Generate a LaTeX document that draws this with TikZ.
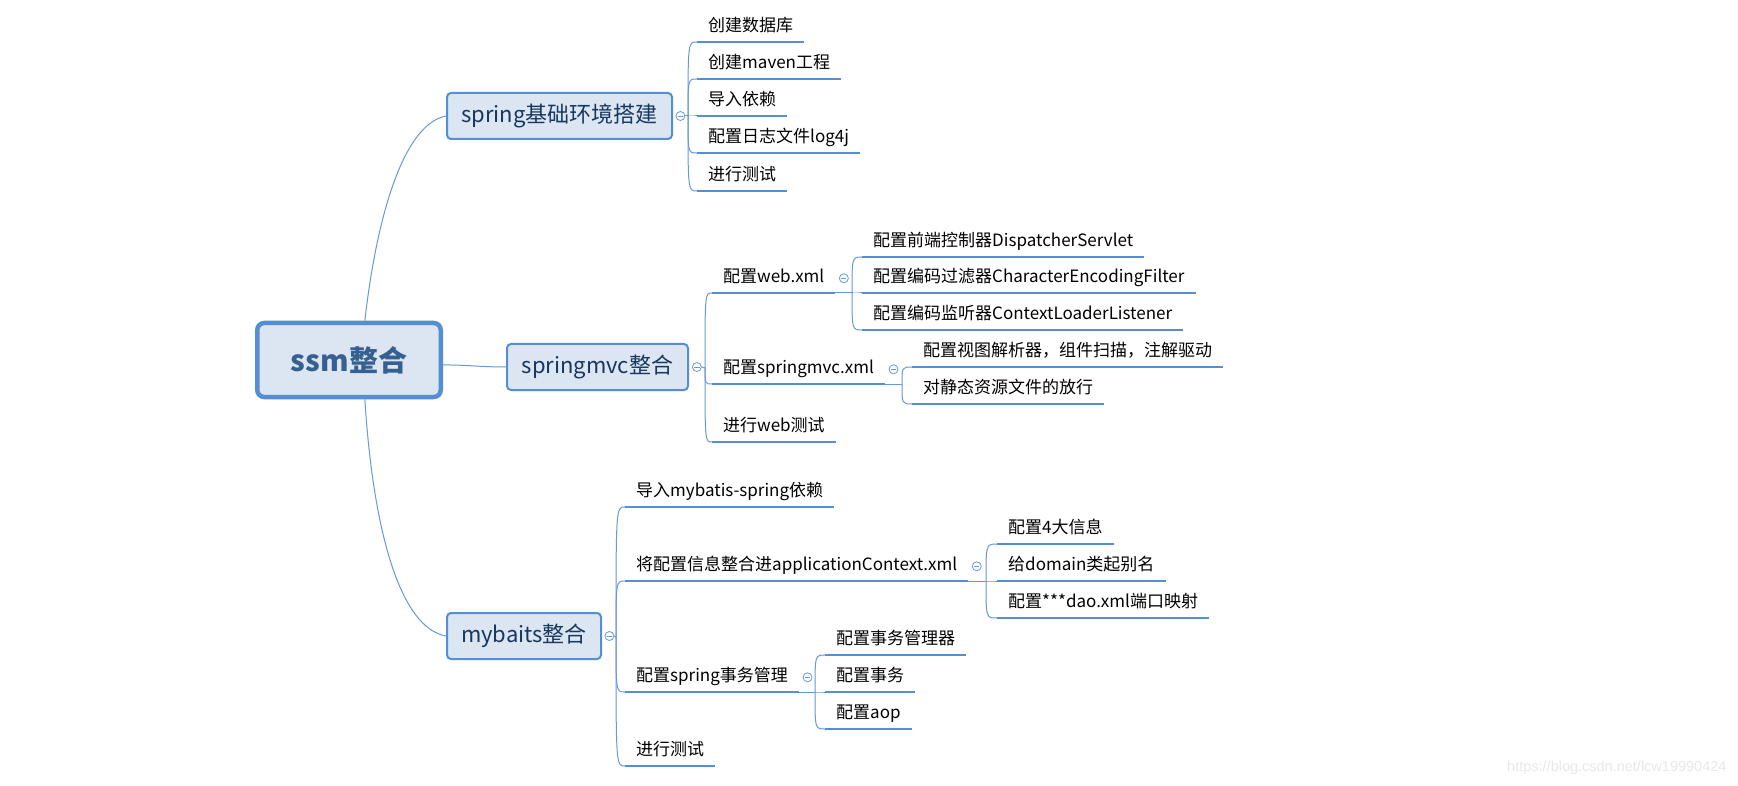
\documentclass[tikz,border=0pt]{standalone}
\usepackage{fontspec}
\setmainfont{Noto Sans CJK SC}
\newfontfamily\wmfont{Liberation Sans}
\usetikzlibrary{positioning}
\definecolor{boxblue}{RGB}{85,142,213}
\definecolor{boxfill}{RGB}{220,230,242}
\definecolor{boxtext}{RGB}{23,55,94}
\definecolor{roottext}{RGB}{54,96,146}
\definecolor{linkblue}{RGB}{104,152,216}
\definecolor{wmgray}{RGB}{232,232,232}

\begin{document}
\begin{tikzpicture}[x=1pt, y=-1pt,
  root/.style={draw=boxblue, line width=4.5pt, fill=boxfill, rounded corners=7pt, minimum width=183.5pt, minimum height=74pt, text=roottext, font=\fontsize{29}{32}\selectfont\bfseries},
  topic/.style={draw=boxblue, line width=2pt, fill=boxfill, rounded corners=4pt, minimum height=46pt, text=boxtext, font=\fontsize{22}{26}\selectfont},
  leaf/.style={anchor=south west, inner xsep=11pt, inner ysep=5pt, text height=14pt, text depth=5pt, font=\fontsize{17}{20}\selectfont},
  uline/.style={draw=boxblue, line width=2.8pt},
  link/.style={draw=linkblue, line width=1pt},
  fold/.style={circle, draw=linkblue, fill=white, line width=0.8pt, inner sep=0pt, minimum size=9pt,
    path picture={\draw[linkblue, line width=0.8pt] ([xshift=-2.6pt]path picture bounding box.center) -- ([xshift=2.6pt]path picture bounding box.center);}}
]
\fill[white] (0,0) rectangle (1738,786);
\useasboundingbox (0,0) rectangle (1738,786);

% main topics
\node[root] (ssm) at (349,360) {ssm整合};
\node[topic, minimum width=225pt] (sp) at (559.5,116) {spring基础环境搭建};
\node[topic, minimum width=181pt] (mvc) at (597.5,367) {springmvc整合};
\node[topic, minimum width=154pt] (mb) at (524,636) {mybaits整合};

\node[fold, right=2.5pt of sp] (fsp) {};
\node[fold, right=3pt of mvc] (fmvc) {};
\node[fold, right=2.5pt of mb] (fmb) {};

% spring
\node[leaf] (s1) at (697,42) {创建数据库};
\node[leaf] (s2) at (697,79) {创建maven工程};
\node[leaf] (s3) at (697,116) {导入依赖};
\node[leaf] (s4) at (697,153) {配置日志文件log4j};
\node[leaf] (s5) at (697,191) {进行测试};

% springmvc
\node[leaf] (m1) at (712,293) {配置web.xml};
\node[leaf] (m2) at (712,384) {配置springmvc.xml};
\node[leaf] (m3) at (712,442) {进行web测试};
\node[fold, right=3.5pt of m1] (fm1) {};
\node[fold, right=3.5pt of m2] (fm2) {};

\node[leaf] (w1) at (862,257) {配置前端控制器DispatcherServlet};
\node[leaf] (w2) at (862,293) {配置编码过滤器CharacterEncodingFilter};
\node[leaf] (w3) at (862,330) {配置编码监听器ContextLoaderListener};
\node[leaf] (v1) at (912,367) {配置视图解析器，组件扫描，注解驱动};
\node[leaf] (v2) at (912,404) {对静态资源文件的放行};

% mybatis
\node[leaf] (b1) at (625,507) {导入mybatis-spring依赖};
\node[leaf] (b2) at (625,581) {将配置信息整合进applicationContext.xml};
\node[leaf] (b3) at (625,692) {配置spring事务管理};
\node[leaf] (b4) at (625,766) {进行测试};
\node[fold, right=3.5pt of b2] (fb2) {};
\node[fold, right=3.5pt of b3] (fb3) {};

\node[leaf] (a1) at (997,544) {配置4大信息};
\node[leaf] (a2) at (997,581) {给domain类起别名};
\node[leaf] (a3) at (997,618) {配置***dao.xml端口映射};
\node[leaf] (t1) at (825,655) {配置事务管理器};
\node[leaf] (t2) at (825,692) {配置事务};
\node[leaf] (t3) at (825,729) {配置aop};

% branch points
\coordinate (ksp) at (688,116);
\coordinate (kmvc) at (705,368);
\coordinate (kmb) at (616,637);
\coordinate (kweb) at (852,293);
\coordinate (kxml) at (902,384);
\coordinate (kctx) at (986,581);
\coordinate (ktx) at (815,692);

\draw[link] (ssm.68) .. controls (375,230) and (400,125) .. (sp.west);
\draw[link] (ssm.-3) to[out=0, in=180] (mvc.west);
\draw[link] (ssm.-68) .. controls (373,530) and (400,628) .. (mb.west);

\draw[link] (fsp.east) -- (ksp);
\draw[link] (fmvc.east) -- (kmvc);
\draw[link] (fmb.east) -- (kmb);
\draw[link] (m1.south east) -- (kweb);
\draw[link] (m2.south east) -- (kxml);
\draw[link] (b2.south east) -- (kctx);
\draw[link] (b3.south east) -- (ktx);

\foreach \k/\n in {ksp/s1, ksp/s2, ksp/s3, ksp/s4, ksp/s5,
    kmvc/m1, kmvc/m2, kmvc/m3, kweb/w1, kweb/w2, kweb/w3, kxml/v1, kxml/v2,
    kmb/b1, kmb/b2, kmb/b3, kmb/b4, kctx/a1, kctx/a2, kctx/a3, ktx/t1, ktx/t2, ktx/t3}
  \draw[link] (\k) .. controls (\k |- \n.south west) .. (\n.south west);

\foreach \n in {s1,s2,s3,s4,s5,m1,m2,m3,w1,w2,w3,v1,v2,b1,b2,b3,b4,a1,a2,a3,t1,t2,t3}
  \draw[uline] (\n.south west) -- (\n.south east);

\node[anchor=east, text=wmgray, font=\wmfont\fontsize{14.5}{16}\selectfont] (wm) at (1730,768) {https://blog.csdn.net/lcw19990424};
\end{tikzpicture}
\end{document}
